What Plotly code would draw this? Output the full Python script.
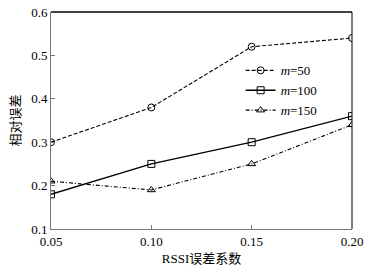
import plotly.graph_objects as go

x_vals = [0.05, 0.10, 0.15, 0.20]
m50 = [0.30, 0.38, 0.52, 0.54]
m100 = [0.18, 0.25, 0.30, 0.36]
m150 = [0.21, 0.19, 0.25, 0.34]
names = ["<i>m</i>=50", "<i>m</i>=100", "<i>m</i>=150"]
x_ticks = ["0.05", "0.10", "0.15", "0.20"]
y_ticks = [0.1, 0.2, 0.3, 0.4, 0.5, 0.6]

SERIF = "Liberation Serif, Times New Roman, serif"

fig = go.Figure()
styles = [("4px,2px", "circle-open", 1.1), ("solid", "square-open", 1.3), ("4px,2px,1px,2px", "triangle-up-open", 1.1)]
for ys, nm, (dash, sym, lw) in zip([m50, m100, m150], names, styles):
    fig.add_trace(go.Scatter(
        x=x_vals, y=ys, name=nm, mode="lines+markers",
        line=dict(color="black", width=lw, dash=dash),
        marker=dict(symbol=sym, size=7, color="black", line=dict(width=1, color="black")),
    ))

fig.update_layout(
    template="none",
    width=369, height=269,
    margin=dict(l=51, r=17, t=12, b=40, pad=0),
    paper_bgcolor="white", plot_bgcolor="white",
    font=dict(family=SERIF, size=13, color="black"),
    showlegend=True,
    legend=dict(x=0.63, y=0.80, xanchor="left", yanchor="top",
                bgcolor="rgba(0,0,0,0)", font=dict(family=SERIF, size=13),
                tracegroupgap=0, itemwidth=30),
)
fig.update_xaxes(
    range=[0.05, 0.20], tickvals=x_vals, ticktext=x_ticks, automargin=False,
    tickfont=dict(family=SERIF, size=13),
    showgrid=False, zeroline=False, showline=True, linecolor="#777", linewidth=1,
    mirror=False, ticks="inside", ticklen=4, tickcolor="#777",
    title=dict(text="RSSI误差系数", font=dict(family="Liberation Serif, Noto Sans CJK SC", size=13), standoff=6),
)
fig.update_yaxes(
    range=[0.1, 0.6], tickvals=y_ticks, tickformat=".1f", automargin=False,
    tickfont=dict(family=SERIF, size=13),
    showgrid=False, zeroline=False, showline=True, linecolor="#777", linewidth=1,
    mirror=False, ticks="inside", ticklen=4, tickcolor="#777",
    title=dict(text="相对误差", font=dict(family="Noto Sans CJK SC", size=13), standoff=7),
)
fig.add_shape(type="line", xref="paper", yref="paper", x0=0, x1=1, y0=1, y1=1,
              line=dict(color="black", width=1.5))
fig.add_shape(type="line", xref="paper", yref="paper", x0=1, x1=1, y0=0, y1=1,
              line=dict(color="black", width=1))

fig.write_html("out.html", config={"displayModeBar": False})
with open("out.html", encoding="utf-8") as f:
    html = f.read()
html = html.replace("<head>", "<head><style>html,body{margin:0;padding:0;overflow:hidden;}</style>", 1)
with open("out.html", "w", encoding="utf-8") as f:
    f.write(html)
